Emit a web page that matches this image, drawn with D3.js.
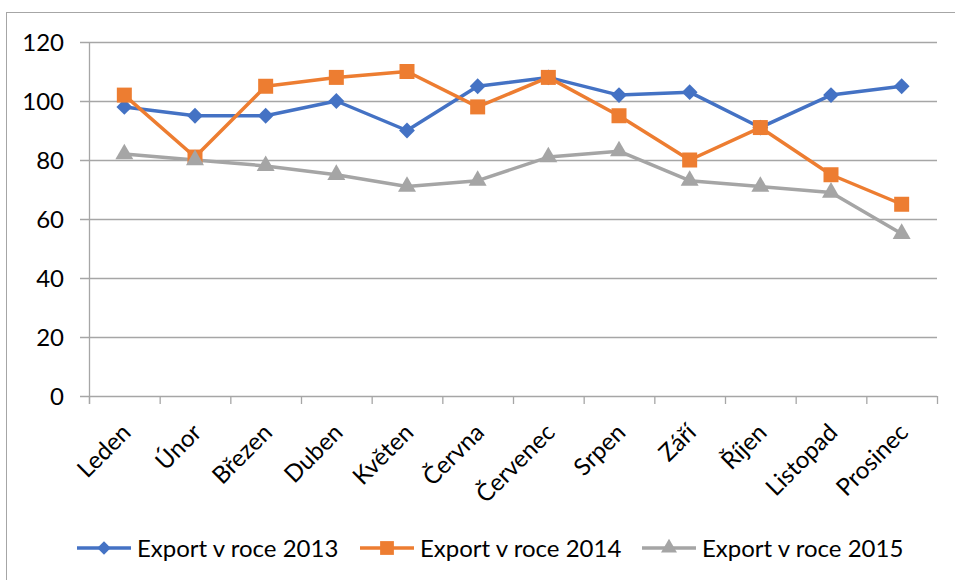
<!DOCTYPE html>
<html><head><meta charset="utf-8">
<script src="https://cdn.jsdelivr.net/npm/d3@7"></script>
<style>body{margin:0;background:#fff}svg{display:block}</style>
</head><body>
<svg id="c" width="955" height="580"></svg>
<script>
const months = ["Leden","Únor","Březen","Duben","Květen","Června","Červenec","Srpen","Září","Říjen","Listopad","Prosinec"];
const export2013 = [98,95,95,100,90,105,108,102,103,91,102,105];
const export2014 = [102,81,105,108,110,98,108,95,80,91,75,65];
const export2015 = [82,80,78,75,71,73,81,83,73,71,69,55];
const yTicks = [0,20,40,60,80,100,120];
const seriesNames = ["Export v roce 2013","Export v roce 2014","Export v roce 2015"];
const colors = ["#4472C4","#ED7D31","#A5A5A5"];

const series = [export2013, export2014, export2015].map((v,i)=>({name:seriesNames[i], values:v, color:colors[i]}));
const markerPath = [
  {type:d3.symbolSquare, size:125, rot:45, lsize:90},
  {type:d3.symbolSquare, size:225, rot:0, lsize:190},
  {type:d3.symbolTriangle, size:140, rot:0, lsize:110}
];

const svg = d3.select("#c");
const font = "Lato, 'Open Sans', sans-serif";
svg.append("rect").attr("x",6.5).attr("y",12.5).attr("width",960).attr("height",580).attr("fill","none").attr("stroke","#a6a6a6").attr("stroke-width",1);

const pL=89, pR=937, pT=42, pB=396;
const x = d3.scaleBand().domain(months).range([pL,pR]);
const y = d3.scaleLinear().domain([0,120]).range([pB,pT]);

svg.append("g").selectAll("line").data(yTicks).join("line")
  .attr("x1",pL-9).attr("x2",pR).attr("y1",d=>y(d)+0.5).attr("y2",d=>y(d)+0.5)
  .attr("stroke","#a6a6a6").attr("stroke-width",1.3);
svg.append("line").attr("x1",pL+0.5).attr("x2",pL+0.5).attr("y1",pT).attr("y2",pB+8).attr("stroke","#a6a6a6").attr("stroke-width",1.3);
const bounds = months.map(m=>x(m)).concat([pR]);
svg.append("g").selectAll("line").data(bounds).join("line")
  .attr("x1",d=>d+0.5).attr("x2",d=>d+0.5).attr("y1",pB).attr("y2",pB+8)
  .attr("stroke","#a6a6a6").attr("stroke-width",1.3);

svg.append("g").selectAll("text").data(yTicks).join("text")
  .attr("x",64).attr("y",d=>y(d)).attr("dy","0.36em").attr("text-anchor","end")
  .attr("font-family",font).attr("font-size",24).attr("fill","#000").text(d=>d);

svg.append("g").selectAll("text").data(months).join("text")
  .attr("transform",d=>`translate(${x(d)+x.bandwidth()/2+8},${pB+38}) rotate(-45)`)
  .attr("text-anchor","end")
  .attr("font-family",font).attr("font-size",24).attr("fill","#000").text(d=>d);

const xc = d=>x(d)+x.bandwidth()/2;
const line = d3.line().x((d,i)=>xc(months[i])).y(d=>y(d));
series.forEach(s=>{
  svg.append("path").datum(s.values).attr("d",line).attr("fill","none")
    .attr("stroke",s.color).attr("stroke-width",3.5).attr("stroke-linejoin","round");
});
series.forEach((s,k)=>{
  const m = markerPath[k];
  svg.append("g").selectAll("path").data(s.values).join("path")
    .attr("transform",(d,i)=>`translate(${xc(months[i])},${y(d)}) rotate(${m.rot})`)
    .attr("d",d3.symbol().type(m.type).size(m.size)).attr("fill",s.color);
});

const legX = [77,360,642];
series.forEach((s,k)=>{
  const m = markerPath[k];
  const g = svg.append("g").attr("transform",`translate(${legX[k]},548)`);
  g.append("line").attr("x1",0).attr("x2",54).attr("y1",0).attr("y2",0).attr("stroke",s.color).attr("stroke-width",3.5);
  g.append("path").attr("transform",`translate(27,0) rotate(${m.rot})`).attr("d",d3.symbol().type(m.type).size(m.lsize)).attr("fill",s.color);
  g.append("text").attr("x",60).attr("y",0).attr("dy","0.36em").attr("font-family",font).attr("font-size",24).attr("fill","#000").text(s.name);
});
</script>
</body></html>
